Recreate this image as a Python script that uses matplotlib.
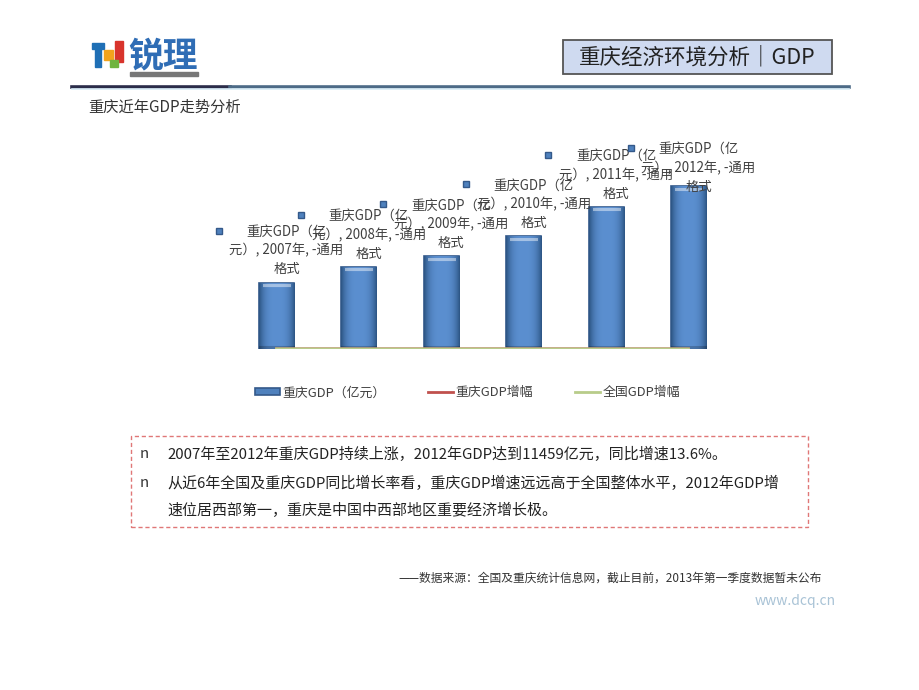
import matplotlib
matplotlib.use("Agg")
import matplotlib.pyplot as plt
import numpy as np
from matplotlib.patches import Rectangle
from matplotlib.lines import Line2D
from matplotlib.colors import to_rgb

plt.rcParams['font.family'] = ['Noto Sans CJK SC', 'DejaVu Sans']

# ---- data ----
years = ["2007年", "2008年", "2009年", "2010年", "2011年", "2012年"]
gdp_cq = [4676, 5794, 6530, 7926, 10011, 11459]          # 重庆GDP（亿元）
growth_cq = [15.9, 14.5, 14.9, 17.1, 16.4, 13.6]         # 重庆GDP增幅 (%)
growth_cn = [14.2, 9.6, 9.2, 10.4, 9.3, 7.8]             # 全国GDP增幅 (%)
series_names = ["重庆GDP（亿元）", "重庆GDP增幅", "全国GDP增幅"]

W, H = 920, 690
fig = plt.figure(figsize=(W / 100, H / 100), dpi=100)
fig.patch.set_facecolor("white")


def fx(px):
    return px / W


def fy(py):
    return 1 - py / H


# ---- header ----
icon = [
    (92, 43, 12, 6, "#1f6fb5"),
    (95, 49, 6, 18, "#1f6fb5"),
    (104, 50, 9, 10, "#f2a31c"),
    (115, 41, 8, 21, "#d8342c"),
    (110, 60, 8, 7, "#6fb43f"),
]
for x0, y0, w, h, c in icon:
    fig.patches.append(Rectangle((fx(x0), fy(y0 + h)), w / W, h / H,
                                 transform=fig.transFigure, color=c, zorder=3))
fig.text(fx(128), fy(56), "锐理", fontsize=25, fontweight="bold", color="#2f6db5",
         ha="left", va="center")
fig.patches.append(Rectangle((fx(130), fy(76)), 68 / W, 4 / H,
                             transform=fig.transFigure, color="#777777", zorder=3))

# title box
fig.patches.append(Rectangle((fx(563), fy(74)), (832 - 563) / W, (74 - 40) / H,
                             transform=fig.transFigure, facecolor="#cfdaf0",
                             edgecolor="#555555", linewidth=1.3, zorder=2))
fig.text(fx(697.5), fy(57), "重庆经济环境分析｜GDP", fontsize=15.5, color="#222222",
         ha="center", va="center", zorder=3)

# header rule
fig.add_artist(Line2D([fx(72), fx(230)], [fy(86.5), fy(86.5)], color="#2b2d4a",
                      linewidth=2.6, transform=fig.transFigure))
fig.add_artist(Line2D([fx(230), fx(849)], [fy(86.5), fy(86.5)], color="#4d6b87",
                      linewidth=2.6, transform=fig.transFigure))
fig.add_artist(Line2D([fx(72), fx(849)], [fy(89), fy(89)], color="#d8ecf6",
                      linewidth=1.2, transform=fig.transFigure))

fig.text(fx(88), fy(107), "重庆近年GDP走势分析", fontsize=11, color="#333333",
         ha="left", va="center")

# ---- chart ----
ax = fig.add_axes([fx(235.3), fy(349), 494.4 / W, 199 / H])
x = list(range(len(years)))
bars = ax.bar(x, gdp_cq, width=0.425, color="#4f81bd", edgecolor="#34598a",
              linewidth=1.2, zorder=2, label=series_names[0])
l1, = ax.plot(x, growth_cq, color="#c0504d", linewidth=2, zorder=3,
              label=series_names[1])
l2, = ax.plot(x, growth_cn, color="#b8cc8a", linewidth=2, zorder=4,
              label=series_names[2])
ax.set_xlim(-0.5, len(years) - 0.5)
ax.set_ylim(0, 14000)
ax.axis("off")

units_per_px = 14000 / 199
px_per_cat = 494.4 / len(years)

# bevelled gradient fill inside each bar
edge_c = np.array(to_rgb("#2e5787"))
mid_c = np.array(to_rgb("#5b8fd0"))
for b in bars:
    bx, bw, bh = b.get_x(), b.get_width(), b.get_height()
    nrow = max(int(bh / units_per_px), 2)
    ncol = 36
    t = np.abs(np.linspace(-1, 1, ncol))
    row = mid_c[None, :] * (1 - t[:, None] ** 3) + edge_c[None, :] * (t[:, None] ** 3)
    img = np.repeat(row[None, :, :], nrow, axis=0)
    inner = t < 0.8
    for r in (2, 3, 4):
        img[r, inner] = img[r, inner] * 0.55 + 0.45
    img[-3:, :] = img[-3:, :] * 0.8
    im = ax.imshow(img, extent=(bx, bx + bw, 0, bh), aspect="auto",
                   origin="upper", zorder=2.1, interpolation="bilinear")
    im.set_clip_path(b)
ax.set_xlim(-0.5, len(years) - 0.5)
ax.set_ylim(0, 14000)

for i, v in enumerate(gdp_cq):
    yc = min(v + 32 * units_per_px, 181 * units_per_px)
    xc = i + 10 / px_per_cat
    ax.text(xc, yc, f"重庆GDP（亿\n元）, {years[i]}, -通用\n格式", ha="center",
            va="center", fontsize=9.6, color="#404040", linespacing=1.42,
            zorder=5, clip_on=False)
    ax.plot([xc - 68 / px_per_cat], [yc + 20 * units_per_px], marker="s",
            markersize=5, color="#4f81bd", markeredgecolor="#34598a",
            clip_on=False, zorder=5)

leg = ax.legend(handles=[bars, l1, l2], loc="center", bbox_to_anchor=(0.47, -0.22),
                ncol=3, frameon=False, fontsize=9.3, handlelength=1.9,
                handleheight=0.45, handletextpad=0.2, columnspacing=3.3)
for t in leg.get_texts():
    t.set_color("#404040")

# ---- commentary box ----
fig.patches.append(Rectangle((fx(131), fy(527)), (808 - 131) / W, (527 - 436) / H,
                             transform=fig.transFigure, fill=False,
                             edgecolor="#e07777", linewidth=1,
                             linestyle=(0, (3, 2)), zorder=3))
lines = [
    (454, "n", "2007年至2012年重庆GDP持续上涨，2012年GDP达到11459亿元，同比增速13.6%。"),
    (483, "n", "从近6年全国及重庆GDP同比增长率看，重庆GDP增速远远高于全国整体水平，2012年GDP增"),
    (510, "", "速位居西部第一，重庆是中国中西部地区重要经济增长极。"),
]
for py, bullet, txt in lines:
    if bullet:
        fig.text(fx(140), fy(py), bullet, fontsize=10.8, color="#333333",
                 ha="left", va="center")
    fig.text(fx(167), fy(py), txt, fontsize=10.8, color="#222222",
             ha="left", va="center")

fig.text(fx(822), fy(578), "——数据来源：全国及重庆统计信息网，截止目前，2013年第一季度数据暂未公布",
         fontsize=8.5, color="#333333", ha="right", va="center")
fig.text(fx(836), fy(601), "www.dcq.cn", fontsize=10, color="#a9c3d6",
         ha="right", va="center")

fig.savefig("out.png", dpi=100)
